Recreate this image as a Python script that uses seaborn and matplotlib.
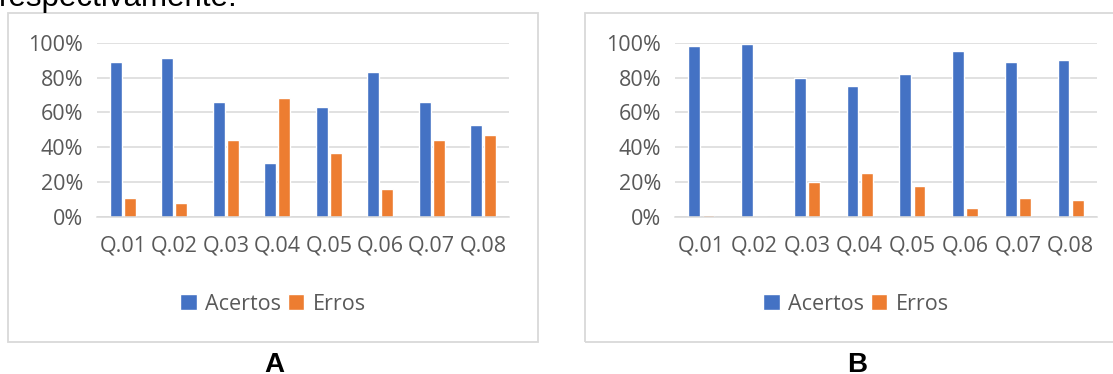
import matplotlib
matplotlib.use("Agg")
import matplotlib.pyplot as plt
import seaborn as sns
import pandas as pd
from matplotlib.patches import Rectangle
from matplotlib.ticker import PercentFormatter

# ---- data ----
questions = ["Q.01", "Q.02", "Q.03", "Q.04", "Q.05", "Q.06", "Q.07", "Q.08"]
series_names = ["Acertos", "Erros"]
acertos_a = [89, 91, 66, 31, 63, 83, 66, 53]
erros_a = [11, 8, 44, 68, 37, 16, 44, 47]
acertos_b = [98, 99, 80, 75, 82, 95, 89, 90]
erros_b = [1, 0, 20, 25, 18, 5, 11, 10]
panel_labels = ["A", "B"]
y_ticks = [0, 20, 40, 60, 80, 100]
caption_text = "respectivamente."

colors = ["#4472C4", "#ED7D31"]
text_gray = "#595959"
grid_gray = "#D9D9D9"

sns.set_style("white")
plt.rcParams["font.family"] = ["Open Sans", "DejaVu Sans"]

W, H = 1113, 374
fig = plt.figure(figsize=(W / 100, H / 100), dpi=100)


def px_axes(x0, x1, ytop, ybot):
    return fig.add_axes([x0 / W, 1 - ybot / H, (x1 - x0) / W, (ybot - ytop) / H])


def make_df(acertos, erros):
    return pd.DataFrame({
        "questao": questions * 2,
        "serie": [series_names[0]] * len(questions) + [series_names[1]] * len(questions),
        "valor": list(acertos) + list(erros),
    })


panels = [
    dict(data=(acertos_a, erros_a), ax=(97, 509, 42.7, 217), box=(8, 538), cx=273),
    dict(data=(acertos_b, erros_b), ax=(675, 1097, 42.7, 217), box=(585, 1125), cx=856),
]

for i, p in enumerate(panels):
    # panel frame
    x0, x1 = p["box"]
    fig.add_artist(Rectangle((x0 / W, 1 - 341.7 / H), (x1 - x0) / W, (341.7 - 12.7) / H,
                             transform=fig.transFigure, fill=False,
                             edgecolor=grid_gray, lw=1.3))
    ax = px_axes(*p["ax"])
    df = make_df(*p["data"])
    sns.barplot(data=df, x="questao", y="valor", hue="serie", palette=colors,
                saturation=1, width=0.54, gap=0.16, ax=ax, errorbar=None)
    ax.set_ylim(0, 100)
    ax.set_yticks(y_ticks)
    ax.yaxis.set_major_formatter(PercentFormatter(100, decimals=0))
    ax.set_xlabel("")
    ax.set_ylabel("")
    ax.grid(axis="y", color=grid_gray, lw=1.1)
    ax.set_axisbelow(True)
    for s in ["top", "right", "left"]:
        ax.spines[s].set_visible(False)
    ax.spines["bottom"].set_color(grid_gray)
    ax.spines["bottom"].set_linewidth(1.1)
    ax.tick_params(axis="both", length=0, labelsize=15.5, labelcolor=text_gray)
    ax.tick_params(axis="x", pad=13)
    ax.tick_params(axis="y", pad=10)

    handles, labels = ax.get_legend_handles_labels()
    if ax.get_legend() is not None:
        ax.get_legend().remove()
    ax.legend(handles, labels, loc="center",
              bbox_to_anchor=(p["cx"] / W, 1 - 304 / H),
              bbox_transform=fig.transFigure, ncol=2, frameon=False,
              fontsize=15.5, handlelength=0.75, handleheight=0.75,
              handletextpad=0.4, columnspacing=0.3, labelcolor=text_gray)

    fig.text(p["cx"] / W + 1 / W, 1 - 372.5 / H, panel_labels[i], ha="center",
             va="baseline", fontsize=20, fontweight="bold",
             family="Liberation Sans", color="black")

fig.text(-1 / W, 1 - 6 / H, caption_text, ha="left", va="baseline",
         fontsize=22.5, family="Liberation Sans", color="black")

fig.savefig("out.png", dpi=100, facecolor="white")
